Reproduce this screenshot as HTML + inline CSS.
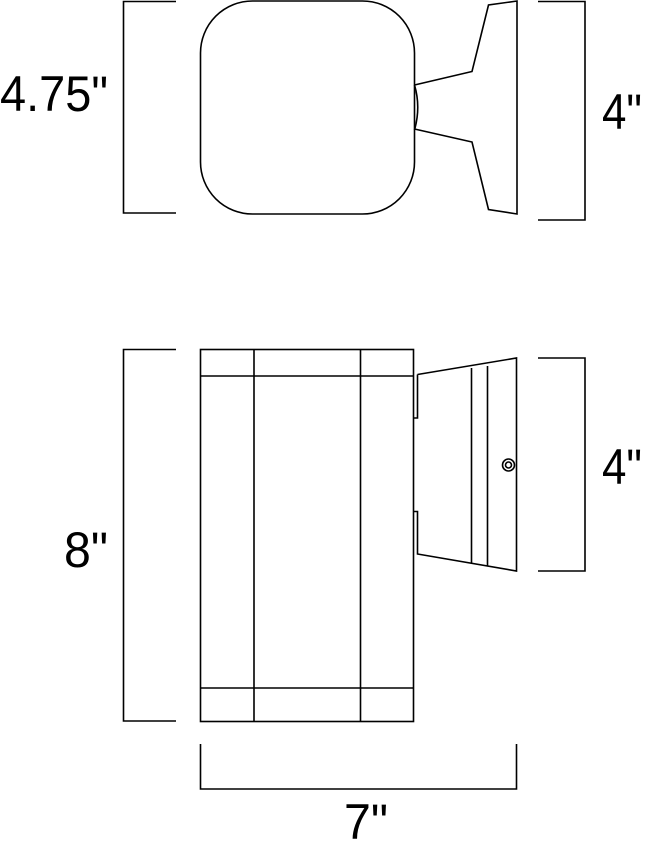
<!DOCTYPE html>
<html><head><style>html,body{margin:0;padding:0;background:#fff}svg{display:block}</style></head>
<body>
<svg width="649" height="854" viewBox="0 0 649 854" xmlns="http://www.w3.org/2000/svg">
<g fill="none" stroke="#000" stroke-width="1.6">
<!-- top view -->
<rect x="200.5" y="1" width="214" height="213" rx="52" ry="52" fill="#fff"/>
<path d="M414.5 85 Q421 107 414.5 130"/>
<path d="M414.5 85 L472 71.5 L488.5 5 L517 1 L517 214 L488.5 209.5 L472 142 L414.5 129"/>
<!-- dims top -->
<path d="M176 1.5 H123.5 V213 H176"/>
<path d="M538 1.5 H585 V220 H538"/>
<!-- front view -->
<rect x="200.5" y="349.5" width="213" height="372"/>
<path d="M254 349.5 V721.5 M360.5 349.5 V721.5 M200.5 376 H413.5 M200.5 688 H413.5"/>
<path d="M417.5 374.5 L516.5 358 L516.5 571 L417.5 554 L417.5 511.5 L413.5 511.5 M413.5 418 L417.5 418 L417.5 374.5"/>
<path d="M471.5 368 V563 M487.5 366 V566"/>
<circle cx="508.5" cy="465" r="6"/>
<circle cx="508.5" cy="465" r="3"/>
<!-- dims bottom -->
<path d="M176 349.5 H123.5 V721 H176"/>
<path d="M538 358 H585 V571 H538"/>
<path d="M200.5 744 V789 H516.5 V744"/>
</g>
<g font-family="Liberation Sans, sans-serif" font-size="50" fill="#000">
<text x="0" y="111" textLength="108" lengthAdjust="spacingAndGlyphs">4.75"</text>
<text x="602" y="129" textLength="40" lengthAdjust="spacingAndGlyphs">4"</text>
<text x="64" y="567" textLength="44" lengthAdjust="spacingAndGlyphs">8"</text>
<text x="602" y="484" textLength="40" lengthAdjust="spacingAndGlyphs">4"</text>
<text x="344" y="839" textLength="44" lengthAdjust="spacingAndGlyphs">7"</text>
</g>
</svg>
</body></html>
